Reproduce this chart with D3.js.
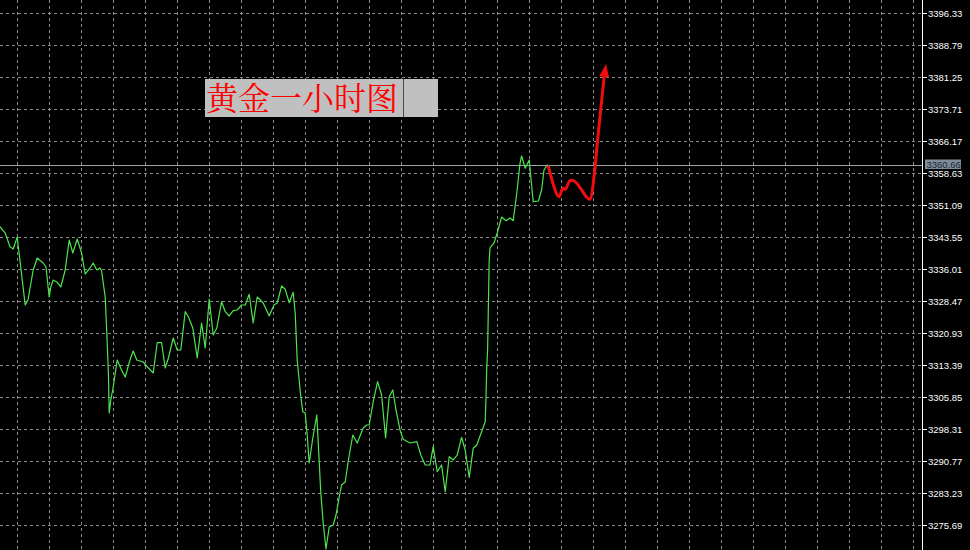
<!DOCTYPE html>
<html><head><meta charset="utf-8">
<script src="https://cdn.jsdelivr.net/npm/d3@7/dist/d3.min.js"></script>
<style>html,body{margin:0;padding:0;background:#000;overflow:hidden}</style>
</head><body>
<script>
// ---- data (hour index, price) ----
const times = [
0, 1.3, 2.5, 3.3, 4.3, 6.3, 7, 8.3, 9.3, 10.8,
11.5, 12.3, 12.7, 13.3, 14.2, 15.2, 16.3, 17.3, 18.2, 19.3,
20.4, 21.3, 22.5, 23.3, 24.2, 25, 25.4, 26.3, 26.7, 27.1,
27.3, 27.7, 28.3, 29.3, 30.4, 31.3, 32.5, 33.3, 34.2, 35.8,
37.1, 38.3, 39.3, 40.4, 41.3, 42.1, 43.3, 44.3, 45.2, 46.3,
47.1, 48.2, 49.3, 50.4, 51.3, 52.3, 53.3, 54.2, 55.4, 56.3,
57.3, 58.3, 59.3, 60.4, 61.3, 62.3, 63.3, 64.3, 65.8, 67.3,
68.5, 69.3, 70.4, 71.3, 72.3, 73.3, 73.8, 74.3, 75.2, 75.7,
76.3, 76.8, 77.3, 78.2, 79.2, 80.2, 80.8, 81.5, 82.3, 83.3,
84, 84.8, 85.4, 86.3, 87.1, 88.2, 89.3, 90.8, 91.7, 92.3,
93.3, 94.4, 95.4, 96.4, 97.3, 98.2, 99, 100, 100.8, 102.5,
104.2, 105.2, 106.3, 107.5, 108.3, 109.3, 110.4, 111.3, 112.3, 113.3,
114.3, 115.4, 116.3, 117.3, 118.3, 119.2, 120.4, 121.3, 121.5, 121.7,
121.9, 122.3, 122.5, 123.5, 124.3, 125.4, 126.5, 127.5, 128.3, 129.2,
130, 130.4, 131.3, 132.3, 133.3, 134.6, 135.4, 136, 136.8, 137.3
];
const prices = [
3346.05, 3344.56, 3341.33, 3340.79, 3343.62, 3327.60, 3328.78, 3335.85, 3338.67, 3337.49,
3336.55, 3329.48, 3331.84, 3333.49, 3333.02, 3331.84, 3335.85, 3342.91, 3339.85, 3343.15,
3339.85, 3334.90, 3336.32, 3337.49, 3335.85, 3336.32, 3335.61, 3329.48, 3321.00, 3311.58,
3302.15, 3305.21, 3308.28, 3314.64, 3312.28, 3310.63, 3314.64, 3316.76, 3314.64, 3314.17,
3312.75, 3311.58, 3318.71, 3318.71, 3312.75, 3315.11, 3319.82, 3317.00, 3317.00, 3326.02,
3324.84, 3322.18, 3315.11, 3323.36, 3317.47, 3329.01, 3320.53, 3322.18, 3328.38, 3326.02,
3325.01, 3326.26, 3326.42, 3327.60, 3327.60, 3330.12, 3323.36, 3329.48, 3328.07, 3325.01,
3327.60, 3328.07, 3332.08, 3331.30, 3328.14, 3330.59, 3325.71, 3314.64, 3305.99, 3302.46,
3302.15, 3296.97, 3290.37, 3296.26, 3301.68, 3283.30, 3276.23, 3270.11, 3275.29, 3275.76,
3278.12, 3282.36, 3285.19, 3285.89, 3291.08, 3296.97, 3295.08, 3298.62, 3299.32, 3299.32,
3304.81, 3309.53, 3306.39, 3296.26, 3305.99, 3307.57, 3302.86, 3298.15, 3295.95, 3295.08,
3295.39, 3292.25, 3289.90, 3289.90, 3294.21, 3288.32, 3289.90, 3283.61, 3291.85, 3291.08,
3292.25, 3296.43, 3293.43, 3287.00, 3293.83, 3294.61, 3297.74, 3300.10, 3305.99, 3313.06,
3317.00, 3338.20, 3341.03, 3342.21, 3344.56, 3348.33, 3347.46, 3348.10, 3347.46, 3353.99,
3360.99, 3362.71, 3359.81, 3361.76, 3351.94, 3352.10, 3354.70, 3359.41, 3360.59, 3360.35
];
// forecast annotation (hand drawn red arrow)
const redTimes  = [137.1, 139.3, 139.8, 140.7, 141.3, 142.5, 143.3, 144.2, 145.4, 146.7, 147.5, 148.5, 149.4, 151.0];
const redPrices = [3360.19, 3353.52, 3353.12, 3355.10, 3354.86, 3356.89, 3356.89, 3356.27, 3354.70, 3352.97, 3352.50, 3357.83, 3366.48, 3381.09];
const arrowTip = {t: 151.5, p: 3384.38};

const tickLabels = ["3396.33","3388.79","3381.25","3373.71","3366.17","3358.63","3351.09","3343.55","3336.01",
                    "3328.47","3320.93","3313.39","3305.85","3298.31","3290.77","3283.23","3275.69"];
const currentPrice = 3360.66;
const title = "黄金一小时图";

// ---- layout ----
const W = 970, H = 550, axisX = 922;
const svg = d3.select("body").append("svg").attr("width", W).attr("height", H)
  .style("display","block").style("background","#000");

const x = d3.scaleLinear().domain([0, 230.5]).range([0, axisX]);
const y = d3.scaleLinear().domain([3275.69, 3396.33]).range([525.3, 13.3]);

// grid
const gridColor = "#8a8a8a";
const tickVals = tickLabels.map(Number);
svg.append("g").selectAll("line").data(tickVals).join("line")
  .attr("x1", 0).attr("x2", axisX).attr("y1", d => Math.round(y(d)) + 0.5).attr("y2", d => Math.round(y(d)) + 0.5)
  .attr("stroke", gridColor).attr("stroke-width", 1).attr("stroke-dasharray", "3,3");
const vTimes = d3.range(0, 29).map(k => 4.25 + 8 * k);
svg.append("g").selectAll("line").data(vTimes).join("line")
  .attr("y1", 0).attr("y2", H).attr("x1", d => Math.round(x(d)) + 0.5).attr("x2", d => Math.round(x(d)) + 0.5)
  .attr("stroke", gridColor).attr("stroke-width", 1).attr("stroke-dasharray", "3,3");

// current price line
const cpY = Math.round(y(currentPrice)) + 0.5;
svg.append("line").attr("x1", 0).attr("x2", axisX).attr("y1", cpY).attr("y2", cpY)
  .attr("stroke", "#9aa3ab").attr("stroke-width", 1);

// title box
const tb = svg.append("g");
tb.append("rect").attr("x", 205).attr("y", 79).attr("width", 233).attr("height", 38).attr("fill", "#c0c0c0");
tb.append("line").attr("x1", 403.5).attr("x2", 403.5).attr("y1", 79).attr("y2", 117).attr("stroke", "#4a4a4a");
tb.append("text").attr("x", 206).attr("y", 98).attr("dy", "0.36em")
  .attr("font-family", "'Noto Serif CJK SC','Noto Sans CJK SC',serif").attr("font-size", 32)
  .attr("fill", "#ff0000").text(title);

// green price line
const pts = times.map((t, i) => [t, prices[i]]);
svg.append("path").datum(pts)
  .attr("d", d3.line().x(d => x(d[0])).y(d => y(d[1])))
  .attr("fill", "none").attr("stroke", "#4ee44e").attr("stroke-width", 1.2).attr("stroke-linejoin", "round");

// red forecast
const rpts = redTimes.map((t, i) => [t, redPrices[i]]);
svg.append("path").datum(rpts)
  .attr("d", d3.line().x(d => x(d[0])).y(d => y(d[1])).curve(d3.curveCatmullRom))
  .attr("fill", "none").attr("stroke", "#f00d0d").attr("stroke-width", 3).attr("stroke-linecap", "round").attr("stroke-linejoin", "round");
// arrowhead
{
  const bx = x(redTimes[redTimes.length - 1]), by = y(redPrices[redPrices.length - 1]);
  const tx = x(arrowTip.t), ty = y(arrowTip.p);
  const dx = tx - bx, dy = ty - by, len = Math.hypot(dx, dy);
  const ux = dx / len, uy = dy / len, head = 13, half = 5;
  const cx = tx - ux * head, cy = ty - uy * head;
  svg.append("path")
    .attr("d", `M${tx},${ty}L${cx - uy * half},${cy + ux * half}L${cx + uy * half},${cy - ux * half}Z`)
    .attr("fill", "#f00d0d");
}

// right axis
svg.append("line").attr("x1", axisX + 0.5).attr("x2", axisX + 0.5).attr("y1", 0).attr("y2", H)
  .attr("stroke", "#ffffff").attr("stroke-width", 1);
const ax = svg.append("g");
ax.selectAll("line").data(tickVals).join("line")
  .attr("x1", axisX).attr("x2", axisX + 5).attr("y1", d => Math.round(y(d)) + 0.5).attr("y2", d => Math.round(y(d)) + 0.5)
  .attr("stroke", "#fff");
ax.selectAll("text").data(tickLabels).join("text")
  .attr("x", axisX + 6).attr("y", d => y(+d)).attr("dy", "0.36em")
  .attr("font-family", "'Liberation Sans', Arial, sans-serif").attr("font-size", 9.5)
  .attr("fill", "#ffffff").text(d => d);

// current price label
svg.append("rect").attr("x", 925).attr("y", cpY - 6).attr("width", 36).attr("height", 9.5).attr("fill", "#7f8d9b");
svg.append("text").attr("x", 926.5).attr("y", cpY - 1.3).attr("dy", "0.36em")
  .attr("font-family", "'Liberation Sans', Arial, sans-serif").attr("font-size", 9.5)
  .attr("fill", "#1a2430").text(d3.format(".2f")(currentPrice));
</script>
</body></html>
